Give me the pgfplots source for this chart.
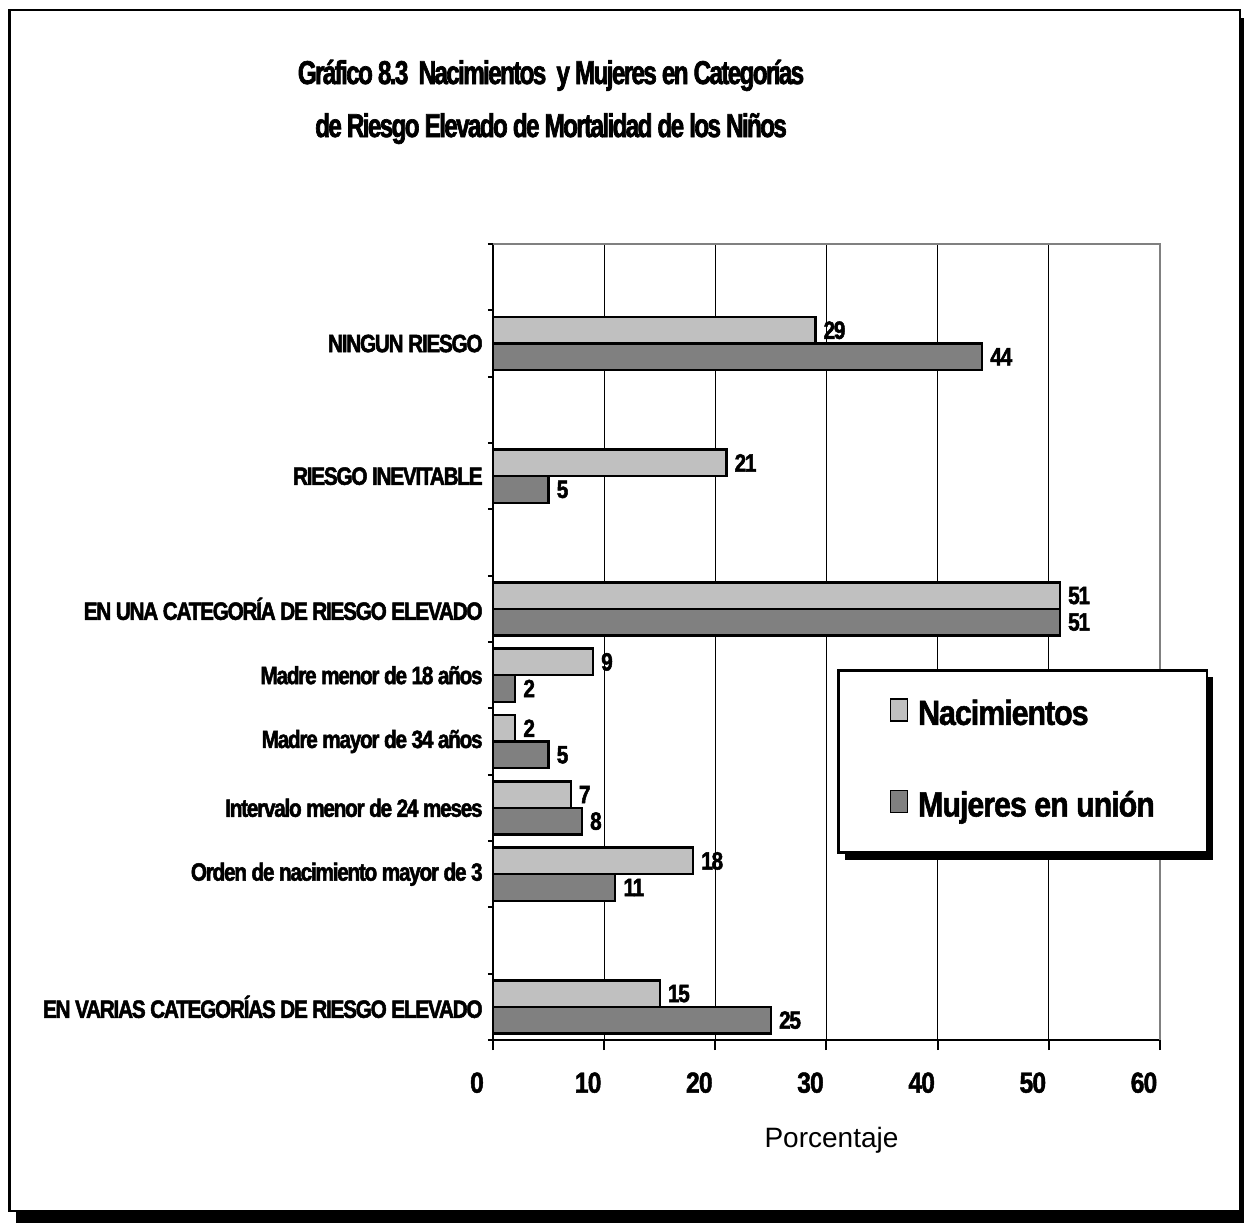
\documentclass[border=0pt]{standalone}
\usepackage{fontspec}
\setmainfont{Liberation Sans}
\newfontfamily\fTit[FakeStretch=0.735, LetterSpace=-5, FakeBold=2]{Liberation Sans Bold}
\newfontfamily\fCat[FakeStretch=0.83, LetterSpace=-5, FakeBold=2]{Liberation Sans Bold}
\newfontfamily\fTick[FakeStretch=0.85, LetterSpace=-3, FakeBold=1.5]{Liberation Sans Bold}
\newfontfamily\fLeg[FakeStretch=0.87, LetterSpace=-3, FakeBold=1.5]{Liberation Sans Bold}
\usepackage{pgfplots}
\pgfplotsset{compat=1.18}
\usetikzlibrary{shadows}
\definecolor{claro}{RGB}{192,192,192}
\definecolor{oscuro}{RGB}{128,128,128}
\newcommand\titfont{\fTit\fontsize{16.5}{26.5}\selectfont}
\newcommand\catfont{\fCat\fontsize{12.5}{14}\selectfont}
\newcommand\tickfont{\fTick\fontsize{14.5}{16}\selectfont}
\newcommand\legfont{\fLeg\fontsize{17.5}{20}\selectfont}
\makeatletter
\tikzset{no preaction/.code={\let\tikz@preactions\pgfutil@empty}}
\makeatother

\begin{document}
\begin{tikzpicture}
% marco con sombra (1 px = 0.5pt)
\begin{scope}[x=0.5pt,y=-0.5pt]
  \path (0,0) rectangle (1244,1223);
  \fill[black] (16,18) rectangle (1244,1223);
  \draw[line width=1.2pt, fill=white] (9.5,10) rectangle (1240,1211);
\end{scope}

\begin{axis}[
    at={(246.5pt,-520pt)}, anchor=south west,
    scale only axis, width=333.5pt, height=398pt,
    xbar, bar width=0.4,
    xmin=0, xmax=60, ymin=-0.5, ymax=11.5, y dir=reverse,
    axis x line*=bottom, axis y line*=left,
    axis line style={line width=1.2pt, -},
    xtick={0,10,...,60},
    ytick={1,3,5,6,7,8,9,11},
    yticklabels={NINGUN RIESGO, RIESGO INEVITABLE,
        EN UNA CATEGORÍA DE RIESGO ELEVADO~,
        Madre menor de 18 años, Madre mayor de 34 años,
        Intervalo menor de 24 meses, Orden de nacimiento mayor de 3,
        EN VARIAS CATEGORÍAS DE RIESGO ELEVADO~},
    minor ytick={-0.5,0.5,...,11.5},
    tick align=outside, major tick length=5pt, minor tick length=2.5pt,
    every tick/.style={black, line width=1pt},
    every major y tick/.append style={draw=none},
    xmajorgrids, grid style={black, line width=0.5pt},
    /pgf/number format/assume math mode=true,
    xticklabel style={font=\tickfont, anchor=north, inner sep=0pt, yshift=-11pt, xshift=-8pt},
    yticklabel style={font=\catfont, anchor=east, inner sep=0pt},
    title={Gráfico 8.3\ \ Nacimientos\ \ y Mujeres en Categorías\\de Riesgo Elevado de Mortalidad de los Niños},
    title style={at={(axis description cs:0.087,1)}, anchor=south, align=center,
        font=\titfont, inner sep=0pt, yshift=43.8pt},
    xlabel={Porcentaje},
    xlabel style={at={(axis description cs:0.5,0)}, anchor=north, inner sep=0pt,
        yshift=-43.5pt, xshift=2.5pt, font=\fontsize{14}{16}\selectfont},
    point meta=x,
    nodes near coords,
    nodes near coords style={font=\catfont, anchor=west, inner sep=0pt, xshift=3.5pt},
    legend image code/.code={
        \draw[#1, no preaction, line width=0.6pt] (0pt,-2.5pt) rectangle (8.5pt,8.5pt);
        \path[no preaction] (13pt,0pt);},
    legend style={at={(axis description cs:0.5157,0.4661)}, anchor=north west,
        draw=black, line width=1.3pt, fill=white,
        drop shadow={shadow xshift=3.3pt, shadow yshift=-3.5pt, fill=black, opacity=1},
        font=\legfont, legend cell align=left,
        inner xsep=26pt, inner ysep=14pt, row sep=28.5pt,
        nodes={inner sep=0pt, text height=13pt, text depth=4pt}},
    clip=false,
]
\addplot[fill=claro, draw=black, line width=1.2pt, bar shift=-0.2]
    coordinates {(29,1) (21,3) (51,5) (9,6) (2,7) (7,8) (18,9) (15,11)};
\addplot[fill=oscuro, draw=black, line width=1.2pt, bar shift=0.2]
    coordinates {(44,1) (5,3) (51,5) (2,6) (5,7) (8,8) (11,9) (25,11)};
\legend{Nacimientos, Mujeres en unión}
\draw[gray, line width=1pt] (axis description cs:0,1) -- (axis description cs:1,1)
    -- (axis description cs:1,0);
\end{axis}
\end{tikzpicture}
\end{document}
